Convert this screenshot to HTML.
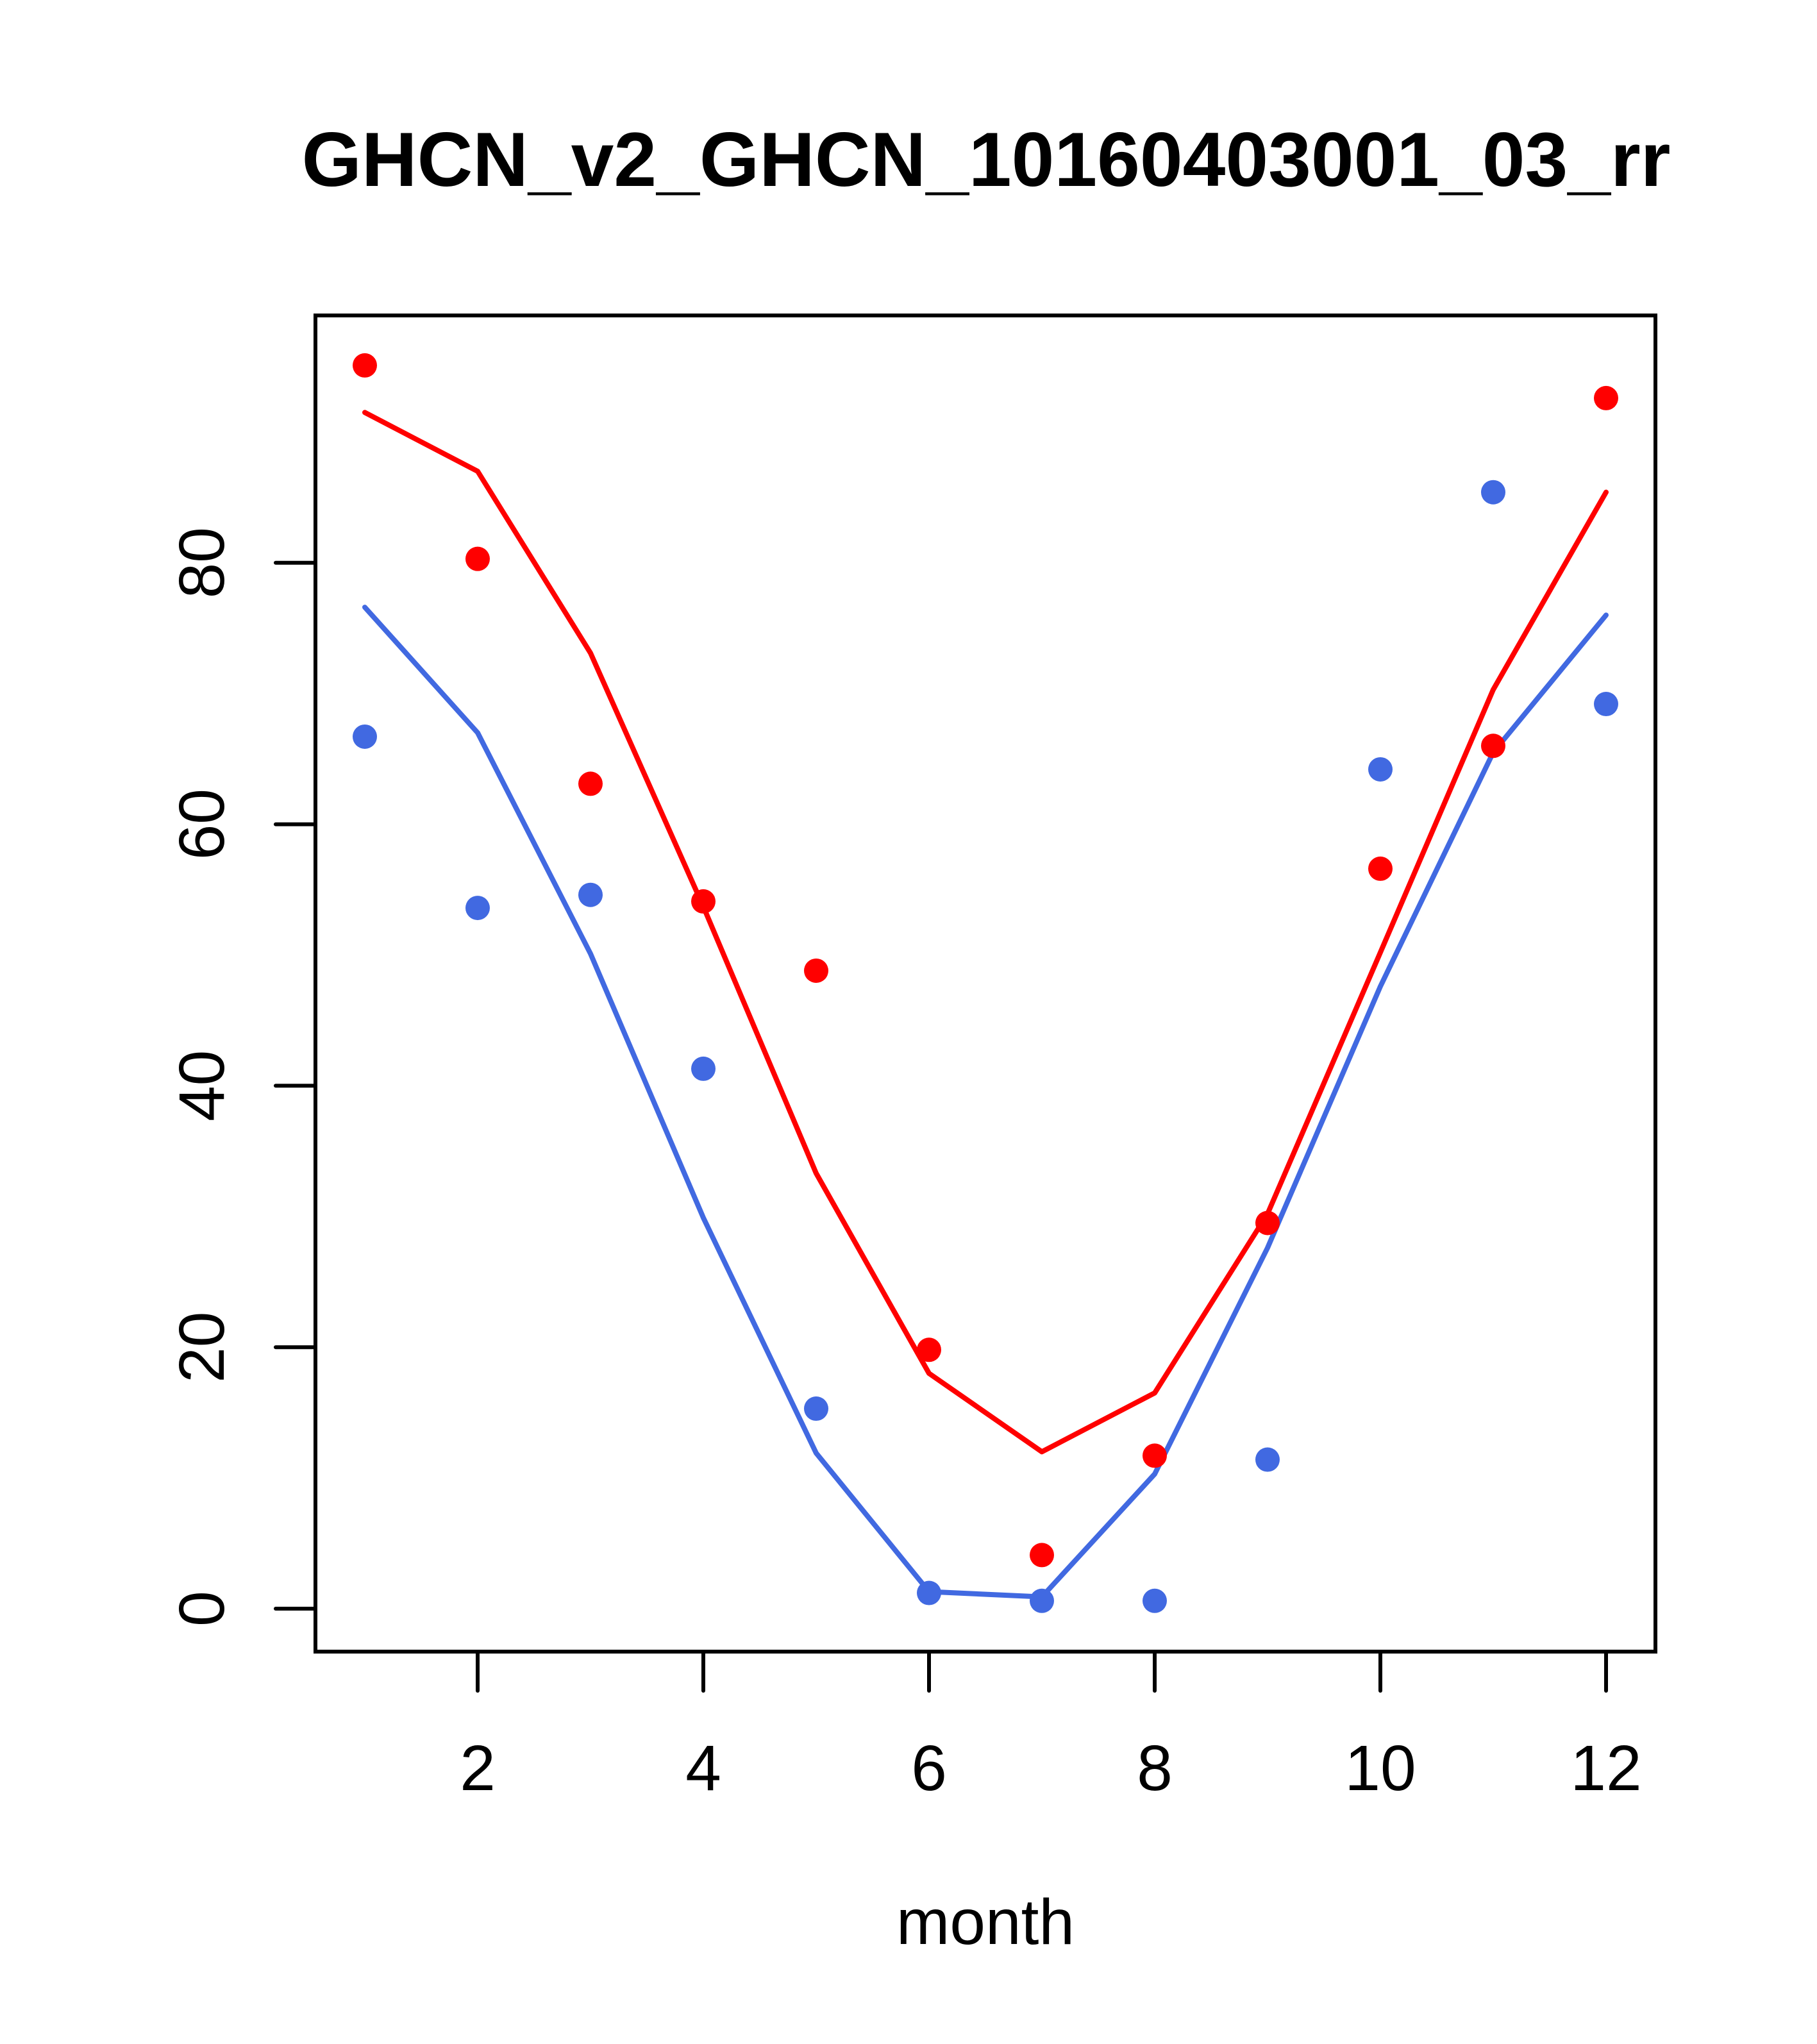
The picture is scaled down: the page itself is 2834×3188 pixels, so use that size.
<!DOCTYPE html>
<html><head><meta charset="utf-8"><style>
html,body{margin:0;padding:0;background:#fff;}
svg{display:block;}
text{font-family:"Liberation Sans",Arial,sans-serif;fill:#000;}
</style></head>
<body>
<svg id="chart" width="2834" height="3188" viewBox="0 0 2834 3188" xmlns="http://www.w3.org/2000/svg">
<rect width="2834" height="3188" fill="#fff"/>
<text x="1538" y="290" font-size="120" font-weight="bold" text-anchor="middle">GHCN_v2_GHCN_10160403001_03_rr</text>
<text x="1537" y="3032" font-size="100" text-anchor="middle">month</text>
<g id="axes"></g>
<g id="series"></g>
<rect x="492" y="492" width="2090" height="2084" fill="none" stroke="#000" stroke-width="6"/>
</svg>
<script>
const months = [1,2,3,4,5,6,7,8,9,10,11,12];
const redPoints = [95.1,80.3,63.1,54.1,48.8,19.8,4.1,11.7,29.5,56.6,66.0,92.6];
const redLine = [91.5,87.0,73.1,53.7,33.3,18.0,12.0,16.5,30.2,50.2,70.3,85.4];
const bluePoints = [66.7,53.6,54.6,41.3,15.3,1.2,0.6,0.6,11.4,64.2,85.4,69.2];
const blueLine = [76.6,67.0,50.1,29.9,11.9,1.3,0.9,10.3,27.6,47.6,65.5,76.0];
const xTicks = [2,4,6,8,10,12];
const yTicks = [0,20,40,60,80];

const NS = "http://www.w3.org/2000/svg";
function xs(m){ return 569 + (m-1)*176; }
function ys(v){ return 2509 - v*20.39; }
function mk(tag, attrs, parent){
  const e = document.createElementNS(NS, tag);
  for (const k in attrs) e.setAttribute(k, attrs[k]);
  parent.appendChild(e);
  return e;
}
const axes = document.getElementById('axes');
const series = document.getElementById('series');

xTicks.forEach(t => {
  const l = mk('line', {x1:xs(t), x2:xs(t), y1:2576, y2:2637, stroke:'#000', 'stroke-width':6, 'stroke-linecap':'round'}, axes);
  
  
  const tx = mk('text', {x:xs(t), y:2792, 'font-size':100, 'text-anchor':'middle'}, axes);
  tx.textContent = t;
  
  
});
yTicks.forEach(t => {
  const l = mk('line', {x1:430, x2:492, y1:ys(t), y2:ys(t), stroke:'#000', 'stroke-width':6, 'stroke-linecap':'round'}, axes);
  
  
  const tx = mk('text', {x:0, y:0, 'font-size':100, 'text-anchor':'middle', transform:'translate(349,'+ys(t)+') rotate(-90)'}, axes);
  tx.textContent = t;
  
  
});

function drawLine(vals, color, name){
  const pts = vals.map((v,i) => xs(months[i]) + ',' + ys(v)).join(' ');
  const p = mk('polyline', {points:pts, fill:'none', stroke:color, 'stroke-width':8, 'stroke-linejoin':'round', 'stroke-linecap':'round'}, series);
  
  
}
function drawPoints(vals, color, name){
  vals.forEach((v,i) => {
    const c = mk('circle', {cx:xs(months[i]), cy:ys(v), r:19, fill:color}, series);
    
    
  });
}
drawLine(redLine, '#ff0000', 'red-line');
drawLine(blueLine, '#4169e1', 'blue-line');
drawPoints(redPoints, '#ff0000', 'red-point');
drawPoints(bluePoints, '#4169e1', 'blue-point');
</script>
</body></html>
